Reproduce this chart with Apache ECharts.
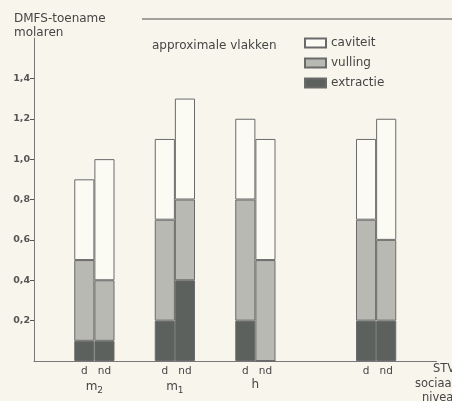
<!DOCTYPE html>
<html><head><meta charset="utf-8">
<script src="https://cdn.jsdelivr.net/npm/echarts@6/dist/echarts.min.js"></script>
<style>html,body{margin:0;padding:0;background:#f8f6ec}#c{width:452px;height:401px}</style>
</head><body><div id="c"></div>
<script>
// 20 category slots along the x axis ('' = empty spacer slot)
const slots = ['', '', 'd', 'nd', '', '', 'd', 'nd', '', '', 'd', 'nd', '', '', '', '', 'd', 'nd', '', ''];
// group labels placed at group centres (value on 0..20 slot scale)
const groupNames = {3: '{m|m}{s|2}', 7: '{m|m}{s|1}', 11: '{m|h}'};
// stacked values per slot (null = no bar)
const extractie = [null, null, 0.1, 0.1, null, null, 0.2, 0.4, null, null, 0.2, 0, null, null, null, null, 0.2, 0.2, null, null];
const vulling   = [null, null, 0.4, 0.3, null, null, 0.5, 0.4, null, null, 0.6, 0.5, null, null, null, null, 0.5, 0.4, null, null];
const caviteit  = [null, null, 0.4, 0.6, null, null, 0.4, 0.5, null, null, 0.4, 0.6, null, null, null, null, 0.4, 0.6, null, null];
const yTicks = [0.2, 0.4, 0.6, 0.8, 1.0, 1.2, 1.4];

const FONT = 'DejaVu Sans';
const TXT = '#454545';
const chart = echarts.init(document.getElementById('c'), null, {renderer: 'canvas'});
const border = {borderColor: '#6a6a6a', borderWidth: 1};
chart.setOption({
  backgroundColor: '#f8f6ec',
  animation: false,
  textStyle: {fontFamily: FONT, color: TXT},
  title: {
    text: 'DMFS-toename\nmolaren', left: 14, top: 12, padding: 0,
    textStyle: {fontFamily: FONT, fontSize: 12, fontWeight: 'normal', color: TXT, lineHeight: 14}
  },
  legend: {
    orient: 'vertical', left: 304, top: 37, itemWidth: 21, itemHeight: 9, itemGap: 8, padding: 0,
    icon: 'rect',
    textStyle: {fontFamily: FONT, fontSize: 12, color: TXT},
    data: ['caviteit', 'vulling', 'extractie']
  },
  grid: {left: 34, right: 15.5, top: 38, bottom: 40},
  xAxis: [{
    type: 'category', data: slots, boundaryGap: true,
    axisLine: {lineStyle: {color: '#777', width: 1}}, axisTick: {show: false},
    axisLabel: {interval: 0, fontFamily: FONT, fontSize: 10.5, color: TXT, margin: 5}
  }, {
    type: 'value', min: 0, max: 20, position: 'bottom', offset: 10,
    axisLine: {show: false}, axisTick: {show: false}, splitLine: {show: false},
    axisLabel: {
      customValues: [3, 7, 11], fontFamily: FONT, color: TXT,
      formatter: v => groupNames[v] || '',
      rich: {m: {fontSize: 12, fontFamily: FONT, color: TXT}, s: {fontSize: 9, fontFamily: FONT, color: TXT, padding: [7, 0, 0, 0]}}
    }
  }],
  yAxis: {
    type: 'value', min: 0, max: 1.6,
    axisLine: {show: true, lineStyle: {color: '#777', width: 1}},
    axisTick: {show: true, customValues: yTicks, length: 4, lineStyle: {color: '#555'}},
    splitLine: {show: false},
    axisLabel: {customValues: yTicks, fontFamily: FONT, fontSize: 9.5, fontWeight: 'bold', color: '#555', margin: 4,
      formatter: v => v.toFixed(1).replace('.', ',')}
  },
  graphic: [
    {type: 'line', shape: {x1: 142, y1: 19, x2: 452, y2: 19}, style: {stroke: '#4a4a4a', lineWidth: 1}},
    {type: 'text', left: 152, top: 40, style: {text: 'approximale vlakken', font: '12px "DejaVu Sans"', fill: TXT}},
    {type: 'text', left: 433, top: 363, style: {text: 'STV', font: '11.5px "DejaVu Sans"', fill: TXT}},
    {type: 'text', left: 415, top: 378, style: {text: 'sociaal', font: '11.5px "DejaVu Sans"', fill: TXT}},
    {type: 'text', left: 422, top: 392, style: {text: 'niveau', font: '11.5px "DejaVu Sans"', fill: TXT}}
  ],
  series: [
    {name: 'extractie', type: 'bar', stack: 's', data: extractie, barWidth: '100%', barGap: '0%',
      itemStyle: Object.assign({color: '#5c615d'}, border)},
    {name: 'vulling', type: 'bar', stack: 's', data: vulling, barWidth: '100%',
      itemStyle: Object.assign({color: '#b9b9b3'}, border)},
    {name: 'caviteit', type: 'bar', stack: 's', data: caviteit, barWidth: '100%',
      itemStyle: Object.assign({color: '#fbfaf3'}, border)}
  ]
});
</script></body></html>
